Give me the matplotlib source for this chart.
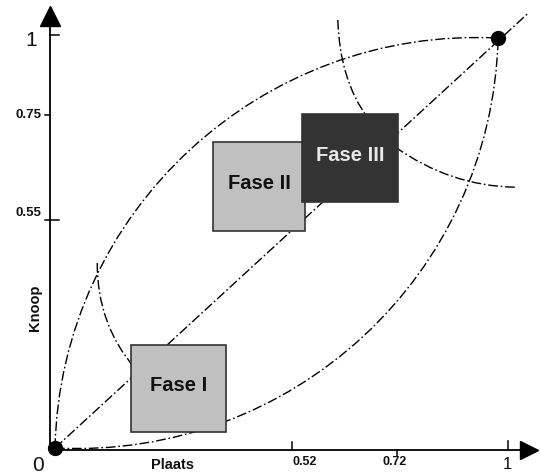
import matplotlib.pyplot as plt
from matplotlib.path import Path
from matplotlib.patches import PathPatch, Rectangle

# schematic coordinates: 0..1 along "Plaats" (x) and "Knoop" (y)
upper_curve = [(0.0, 0.0), (0.012, 0.575), (0.456, 1.024), (0.976, 0.995)]
lower_curve = [(0.0, 0.0), (0.522, -0.029), (0.963, 0.420), (0.976, 0.995)]
arc_start = [(0.093, 0.449), (0.093, 0.299), (0.176, 0.194)]
arc_top = [(0.623, 1.039), (0.627, 0.893), (0.689, 0.801)]
arc_right = [(0.749, 0.731), (0.870, 0.636), (1.013, 0.633)]
diagonal = [(0.0, 0.0), (1.040, 1.053)]
end_points = [(0.0, 0.0), (0.976, 0.995)]

phases = ["Fase I", "Fase II", "Fase III"]
phase_x = [(0.167, 0.377), (0.348, 0.551), (0.544, 0.756)]
phase_y = [(0.039, 0.250), (0.527, 0.743), (0.597, 0.811)]
phase_fill = ["#c0c0c0", "#c0c0c0", "#333333"]
phase_text = ["#111111", "#111111", "#e8e8e8"]

x_ticks = [0.522, 0.753, 0.998]
x_labels = ["0.52", "0.72", "1"]
y_ticks = [0.553, 0.808, 1.002]
y_labels = ["0.55", "0.75", "1"]

# pixel scale of one unit (540x474 figure)
sx = 454.0
sy = 412.0

fig = plt.figure(figsize=(5.4, 4.74), dpi=100)
ax = fig.add_axes([0, 0, 1, 1])
ax.set_xlim(-55 / sx, 485 / sx)
ax.set_ylim(-26 / sy, 448 / sy)
ax.axis("off")

dash = (0, (7, 2, 1.2, 2))
lw = 1.0


def bezier(pts, **kw):
    codes = [Path.MOVETO] + [Path.CURVE4 if len(pts) == 4 else Path.CURVE3] * (len(pts) - 1)
    ax.add_patch(PathPatch(Path(pts, codes), fill=False, **kw))


for c in [upper_curve, lower_curve, arc_start, arc_top, arc_right]:
    bezier(c, lw=lw, ls=dash, ec="black", zorder=2)

ax.plot([p[0] for p in diagonal], [p[1] for p in diagonal],
        color="black", lw=lw, ls=dash, zorder=2)

# axes with arrow heads
ax0x = -5 / sx
ax0y = -2 / sy
ax.plot([ax0x, ax0x], [ax0y, 1.035], color="black", lw=1.3, zorder=3)
ax.plot([ax0x, 1.035], [ax0y, ax0y], color="black", lw=1.3, zorder=3)
ax.plot(ax0x, 1.049, marker="^", ms=14, color="black", zorder=3)
ax.plot(1.044, ax0y, marker=">", ms=13, color="black", zorder=3)

# ticks
y_span = [(-5, 9), (-5, 0), (0, 9)]
for t, (a, b) in zip(y_ticks, y_span):
    ax.plot([ax0x + a / sx, ax0x + b / sx], [t, t], color="black", lw=1.1)
x_span = [(0, 8), (-6, 0), (0, 9)]
for t, (a, b) in zip(x_ticks, x_span):
    ax.plot([t, t], [ax0y + a / sy, ax0y + b / sy], color="black", lw=1.1)

bold = dict(family="Liberation Sans", weight="bold", color="#111111")
x_label_pos = [0.551, 0.749]
for x, lab in zip(x_label_pos, x_labels[:2]):
    ax.text(x, -0.034, lab, ha="center", va="center", fontsize=9, **bold)
y_label_pos = [0.570, 0.808]
for y, lab in zip(y_label_pos, y_labels[:2]):
    ax.text(-0.029, y, lab, ha="right", va="center", fontsize=9.5, **bold)

big = dict(family="Liberation Sans", fontsize=15, color="#111111")
ax.text(-0.053, 0.990, y_labels[2], ha="center", va="center", **big)
ax.text(0.996, -0.058, x_labels[2], ha="center", va="bottom",
        family="Liberation Sans", fontsize=12, color="#111111")
ax.text(-0.037, -0.042, "0", ha="center", va="center", **big)

ax.text(0.258, -0.041, "Plaats", ha="center", va="center", fontsize=10.5, **bold)
ax.text(-0.044, 0.340, "Knoop", ha="center", va="center", rotation=90,
        fontsize=10.5, **bold)

# phase boxes
for name, (x0, x1), (y0, y1), fc, tc in zip(phases, phase_x, phase_y, phase_fill, phase_text):
    ax.add_patch(Rectangle((x0, y0), x1 - x0, y1 - y0, fc=fc, ec="#333333",
                           lw=1.2, zorder=4))
    ax.text((x0 + x1) / 2, (y0 + y1) / 2 + 0.006, name, ha="center", va="center",
            fontsize=14.5, family="Liberation Sans", weight="bold", color=tc, zorder=5)

ax.plot([p[0] for p in end_points], [p[1] for p in end_points], "o",
        color="black", ms=10, zorder=6)

fig.savefig("out.png", dpi=100, facecolor="white")
